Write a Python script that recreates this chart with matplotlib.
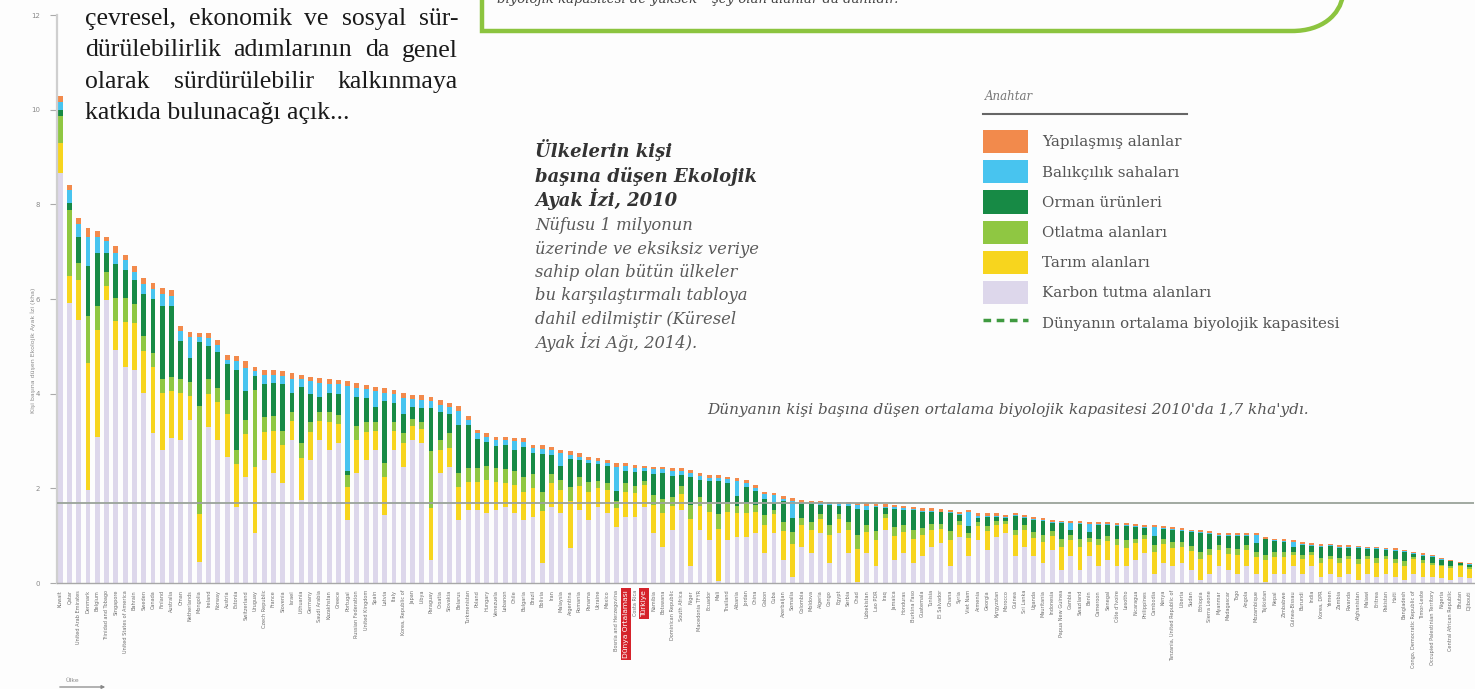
import matplotlib.pyplot as plt
from matplotlib.lines import Line2D
from matplotlib.patches import PathPatch
from matplotlib.path import Path
import numpy as np

W, H = 1475, 689

countries = [
    "Kuwait", "Qatar", "United Arab Emirates", "Denmark", "Belgium", "Trinidad and Tobago",
    "Singapore", "United States of America", "Bahrain", "Sweden", "Canada", "Finland",
    "Australia", "Oman", "Netherlands", "Mongolia", "Ireland", "Norway", "Austria", "Estonia",
    "Switzerland", "Uruguay", "Czech Republic", "France", "Slovenia", "Israel", "Lithuania",
    "Germany", "Saudi Arabia", "Kazakhstan", "Greece", "Portugal", "Russian Federation",
    "United Kingdom", "Spain", "Latvia", "Italy", "Korea, Republic of", "Japan", "Libya",
    "Paraguay", "Croatia", "Slovakia", "Belarus", "Turkmenistan", "Poland", "Hungary",
    "Venezuela", "Lebanon", "Chile", "Bulgaria", "Brazil", "Bolivia", "Iran", "Malaysia",
    "Argentina", "Romania", "Panama", "Ukraine", "Mexico", "Bosnia and Herzegovina",
    "Dünya Ortalaması", "Costa Rica", "Türkiye", "Namibia", "Botswana", "Dominican Republic",
    "South Africa", "Niger", "Macedonia TFYR", "Ecuador", "Mali", "Thailand", "Albania",
    "Jordan", "China", "Gabon", "Cuba", "Azerbaijan", "Somalia", "Colombia", "Moldova",
    "Algeria", "Congo", "Egypt", "Serbia", "Chad", "Uzbekistan", "Lao PDR", "Iraq", "Jamaica",
    "Honduras", "Burkina Faso", "Guatemala", "Tunisia", "El Salvador", "Ghana", "Syria",
    "Viet Nam", "Armenia", "Georgia", "Kyrgyzstan", "Morocco", "Guinea", "Sri Lanka",
    "Uganda", "Mauritania", "Indonesia", "Papua New Guinea", "Gambia", "Swaziland", "Benin",
    "Cameroon", "Senegal", "Côte d'Ivoire", "Lesotho", "Nicaragua", "Philippines", "Cambodia",
    "Kenya", "Tanzania, United Republic of", "Liberia", "Sudan", "Ethiopia", "Sierra Leone",
    "Myanmar", "Madagascar", "Togo", "Angola", "Mozambique", "Tajikistan", "Nepal", "Zimbabwe",
    "Guinea-Bissau", "Burundi", "India", "Korea, DPR", "Yemen", "Zambia", "Rwanda",
    "Afghanistan", "Malawi", "Eritrea", "Pakistan", "Haiti", "Bangladesh",
    "Congo, Democratic Republic of", "Timor-Leste", "Occupied Palestinian Territory",
    "Nigeria", "Central African Republic", "Bhutan", "Djibouti",
]

carbon = [
    8.66, 5.91, 5.56, 1.97, 3.09, 5.98, 4.93, 4.57, 4.50, 4.01,
    3.16, 2.81, 3.06, 3.02, 3.45, 0.45, 3.30, 3.02, 2.67, 1.61,
    2.25, 1.05, 2.60, 2.32, 2.11, 3.02, 1.75, 2.60, 3.02, 2.81,
    2.95, 1.33, 2.32, 2.60, 2.81, 1.44, 2.81, 2.46, 3.02, 2.95,
    0.49, 2.32, 2.46, 1.33, 1.54, 1.54, 1.47, 1.54, 1.61, 1.47,
    1.33, 1.40, 0.42, 1.61, 1.47, 0.73, 1.54, 1.33, 1.61, 1.47,
    1.19, 1.40, 1.40, 1.61, 1.05, 0.77, 1.12, 1.54, 0.35, 1.12,
    0.91, 0.05, 0.91, 0.98, 0.98, 1.05, 0.63, 1.05, 0.49, 0.13,
    0.77, 0.63, 1.05, 0.42, 1.05, 0.63, 0.02, 0.63, 0.35, 1.12,
    0.49, 0.63, 0.42, 0.56, 0.77, 0.84, 0.35, 0.98, 0.56, 0.90,
    0.70, 0.98, 1.05, 0.56, 0.77, 0.56, 0.42, 0.70, 0.27, 0.56,
    0.27, 0.56, 0.35, 0.49, 0.35, 0.35, 0.49, 0.63, 0.20, 0.42,
    0.35, 0.42, 0.27, 0.06, 0.20, 0.35, 0.27, 0.20, 0.35, 0.20,
    0.03, 0.20, 0.20, 0.35, 0.20, 0.35, 0.13, 0.20, 0.13, 0.20,
    0.06, 0.20, 0.13, 0.20, 0.13, 0.06, 0.20, 0.13, 0.13, 0.10,
    0.06, 0.13, 0.10,
]
cropland = [
    0.63, 0.57, 0.85, 2.67, 2.26, 0.30, 0.60, 0.95, 1.00, 0.90,
    1.40, 1.20, 1.00, 1.00, 0.50, 1.00, 0.70, 0.80, 0.90, 0.90,
    0.90, 1.41, 0.60, 0.90, 0.80, 0.40, 0.90, 0.60, 0.40, 0.60,
    0.40, 0.70, 0.70, 0.60, 0.40, 0.80, 0.40, 0.50, 0.30, 0.30,
    1.10, 0.50, 0.40, 0.70, 0.60, 0.60, 0.70, 0.60, 0.50, 0.60,
    0.60, 0.60, 1.10, 0.50, 0.50, 1.00, 0.50, 0.60, 0.40, 0.50,
    0.40, 0.52, 0.50, 0.45, 0.60, 0.70, 0.50, 0.35, 1.00, 0.50,
    0.60, 1.10, 0.60, 0.50, 0.50, 0.45, 0.60, 0.40, 0.60, 0.70,
    0.45, 0.50, 0.30, 0.60, 0.30, 0.50, 0.70, 0.45, 0.55, 0.25,
    0.50, 0.45, 0.50, 0.45, 0.35, 0.30, 0.55, 0.25, 0.40, 0.30,
    0.40, 0.25, 0.20, 0.45, 0.35, 0.40, 0.45, 0.30, 0.50, 0.35,
    0.50, 0.30, 0.45, 0.40, 0.45, 0.40, 0.35, 0.30, 0.45, 0.40,
    0.40, 0.35, 0.40, 0.45, 0.40, 0.35, 0.35, 0.40, 0.35, 0.35,
    0.45, 0.35, 0.35, 0.25, 0.30, 0.25, 0.30, 0.30, 0.30, 0.30,
    0.35, 0.30, 0.30, 0.30, 0.30, 0.30, 0.30, 0.30, 0.25, 0.25,
    0.25, 0.22, 0.20,
]
grazing = [
    0.58, 1.40, 0.35, 1.00, 0.50, 0.30, 0.50, 0.50, 0.40, 0.30,
    0.30, 0.30, 0.30, 0.30, 0.30, 2.30, 0.30, 0.30, 0.30, 0.30,
    0.30, 1.62, 0.30, 0.30, 0.30, 0.20, 0.30, 0.20, 0.20, 0.20,
    0.20, 0.25, 0.30, 0.20, 0.20, 0.30, 0.20, 0.20, 0.15, 0.15,
    1.20, 0.20, 0.30, 0.30, 0.30, 0.30, 0.30, 0.30, 0.30, 0.30,
    0.30, 0.30, 0.40, 0.20, 0.20, 0.30, 0.20, 0.20, 0.15, 0.15,
    0.15, 0.20, 0.15, 0.10, 0.20, 0.30, 0.20, 0.15, 0.30, 0.20,
    0.20, 0.30, 0.20, 0.15, 0.20, 0.15, 0.20, 0.10, 0.20, 0.25,
    0.15, 0.15, 0.10, 0.20, 0.10, 0.15, 0.30, 0.15, 0.20, 0.08,
    0.20, 0.15, 0.20, 0.15, 0.12, 0.10, 0.20, 0.08, 0.10, 0.08,
    0.10, 0.07, 0.05, 0.12, 0.10, 0.12, 0.15, 0.10, 0.15, 0.10,
    0.15, 0.10, 0.12, 0.10, 0.12, 0.15, 0.10, 0.08, 0.15, 0.10,
    0.12, 0.10, 0.12, 0.15, 0.12, 0.10, 0.12, 0.12, 0.10, 0.10,
    0.12, 0.10, 0.10, 0.06, 0.10, 0.06, 0.10, 0.08, 0.10, 0.08,
    0.10, 0.08, 0.10, 0.06, 0.08, 0.10, 0.04, 0.05, 0.05, 0.04,
    0.04, 0.03, 0.03,
]
forest = [
    0.13, 0.15, 0.55, 1.06, 1.12, 0.40, 0.70, 0.60, 0.50, 0.90,
    1.15, 1.55, 1.50, 0.80, 0.50, 1.35, 0.70, 0.75, 0.75, 1.70,
    0.60, 0.30, 0.70, 0.70, 1.00, 0.40, 1.20, 0.60, 0.30, 0.40,
    0.45, 0.08, 0.60, 0.50, 0.30, 1.30, 0.40, 0.40, 0.25, 0.30,
    0.90, 0.60, 0.40, 1.00, 0.90, 0.60, 0.50, 0.45, 0.50, 0.45,
    0.65, 0.45, 0.80, 0.40, 0.30, 0.60, 0.35, 0.40, 0.35, 0.35,
    0.20, 0.25, 0.30, 0.20, 0.45, 0.55, 0.45, 0.25, 0.60, 0.35,
    0.45, 0.70, 0.40, 0.20, 0.35, 0.30, 0.35, 0.15, 0.45, 0.30,
    0.30, 0.38, 0.20, 0.42, 0.18, 0.35, 0.55, 0.32, 0.50, 0.13,
    0.38, 0.32, 0.42, 0.35, 0.27, 0.25, 0.37, 0.12, 0.15, 0.10,
    0.20, 0.10, 0.08, 0.28, 0.16, 0.26, 0.29, 0.17, 0.34, 0.10,
    0.32, 0.12, 0.30, 0.23, 0.28, 0.30, 0.25, 0.16, 0.20, 0.23,
    0.26, 0.23, 0.28, 0.39, 0.31, 0.20, 0.25, 0.27, 0.19, 0.20,
    0.32, 0.23, 0.21, 0.10, 0.21, 0.12, 0.23, 0.20, 0.22, 0.17,
    0.23, 0.14, 0.19, 0.14, 0.17, 0.19, 0.07, 0.10, 0.11, 0.10,
    0.11, 0.04, 0.06,
]
fishing = [
    0.16, 0.28, 0.28, 0.62, 0.35, 0.25, 0.25, 0.20, 0.17, 0.20,
    0.20, 0.25, 0.20, 0.20, 0.45, 0.10, 0.18, 0.15, 0.10, 0.18,
    0.50, 0.10, 0.20, 0.18, 0.16, 0.30, 0.15, 0.26, 0.30, 0.20,
    0.20, 1.80, 0.20, 0.20, 0.35, 0.18, 0.18, 0.35, 0.17, 0.17,
    0.15, 0.15, 0.15, 0.30, 0.10, 0.12, 0.12, 0.13, 0.11, 0.17,
    0.10, 0.10, 0.12, 0.10, 0.27, 0.08, 0.08, 0.07, 0.06, 0.06,
    0.52, 0.10, 0.08, 0.06, 0.10, 0.08, 0.09, 0.07, 0.08, 0.09,
    0.06, 0.07, 0.08, 0.32, 0.09, 0.06, 0.10, 0.15, 0.04, 0.36,
    0.03, 0.03, 0.03, 0.03, 0.03, 0.03, 0.08, 0.08, 0.02, 0.03,
    0.03, 0.03, 0.02, 0.02, 0.02, 0.02, 0.02, 0.03, 0.28, 0.04,
    0.02, 0.02, 0.02, 0.02, 0.02, 0.02, 0.02, 0.02, 0.02, 0.15,
    0.02, 0.16, 0.02, 0.02, 0.02, 0.02, 0.02, 0.02, 0.19, 0.02,
    0.02, 0.02, 0.02, 0.02, 0.02, 0.02, 0.02, 0.02, 0.02, 0.16,
    0.02, 0.02, 0.02, 0.11, 0.02, 0.02, 0.02, 0.02, 0.02, 0.02,
    0.02, 0.02, 0.02, 0.02, 0.02, 0.02, 0.02, 0.02, 0.02, 0.01,
    0.01, 0.01, 0.01,
]
built = [
    0.12, 0.10, 0.12, 0.18, 0.11, 0.09, 0.13, 0.11, 0.12, 0.13,
    0.13, 0.12, 0.13, 0.10, 0.11, 0.08, 0.10, 0.12, 0.10, 0.10,
    0.13, 0.09, 0.10, 0.10, 0.10, 0.11, 0.10, 0.10, 0.11, 0.10,
    0.09, 0.10, 0.10, 0.09, 0.09, 0.10, 0.09, 0.10, 0.08, 0.10,
    0.10, 0.10, 0.09, 0.10, 0.08, 0.07, 0.07, 0.07, 0.07, 0.07,
    0.08, 0.07, 0.08, 0.07, 0.07, 0.07, 0.07, 0.07, 0.07, 0.07,
    0.07, 0.06, 0.06, 0.06, 0.06, 0.06, 0.06, 0.06, 0.06, 0.06,
    0.06, 0.06, 0.06, 0.06, 0.06, 0.06, 0.05, 0.05, 0.05, 0.05,
    0.05, 0.05, 0.05, 0.05, 0.05, 0.05, 0.05, 0.05, 0.05, 0.05,
    0.05, 0.05, 0.05, 0.05, 0.05, 0.05, 0.05, 0.05, 0.05, 0.05,
    0.05, 0.05, 0.04, 0.04, 0.04, 0.04, 0.04, 0.04, 0.04, 0.04,
    0.04, 0.04, 0.04, 0.04, 0.04, 0.04, 0.04, 0.04, 0.04, 0.04,
    0.04, 0.04, 0.04, 0.04, 0.04, 0.04, 0.04, 0.04, 0.04, 0.04,
    0.04, 0.04, 0.04, 0.04, 0.04, 0.04, 0.04, 0.02, 0.03, 0.03,
    0.03, 0.03, 0.03, 0.03, 0.03, 0.03, 0.03, 0.03, 0.03, 0.02,
    0.02, 0.02, 0.02,
]

world_biocapacity = 1.7
yticks = [0, 2, 4, 6, 8, 10, 12]
highlight = {"Dünya Ortalaması", "Türkiye"}

series = [
    ("Karbon tutma alanları", carbon, "#ddd7eb"),
    ("Tarım alanları", cropland, "#f7d51e"),
    ("Otlatma alanları", grazing, "#8fc742"),
    ("Orman ürünleri", forest, "#178a45"),
    ("Balıkçılık sahaları", fishing, "#48c4ef"),
    ("Yapılaşmış alanlar", built, "#f28a4c"),
]


def fx(px):
    return px / W


def fy(py):
    return 1 - py / H


fig = plt.figure(figsize=(W / 100, H / 100), dpi=100)
fig.patch.set_facecolor("#fdfdfd")

ax = fig.add_axes([fx(57), fy(583), (1474 - 57) / W, (583 - 15) / H])
ax.set_facecolor("none")

x = np.arange(len(countries))
bottom = np.zeros(len(countries))
containers = {}
for label, vals, color in series:
    containers[label] = ax.bar(x, vals, width=0.52, bottom=bottom, color=color, linewidth=0)
    bottom += np.array(vals)

ax.axhline(world_biocapacity, color="#9aa39a", lw=1.3, zorder=3)

ax.set_xlim(-0.35, len(countries) - 0.5)
ax.set_ylim(0, 12)
for side in ["top", "right"]:
    ax.spines[side].set_visible(False)
ax.spines["left"].set_color("#cfcfcf")
ax.spines["left"].set_linewidth(1.6)
ax.spines["bottom"].set_color("#a8a8a8")
ax.spines["bottom"].set_linewidth(1.0)

ax.set_yticks(yticks)
ax.tick_params(axis="y", length=5, width=0.8, color="#aaaaaa", labelsize=5,
               labelcolor="#8a8a8a", pad=7)
ax.set_xticks(x)
ax.set_xticklabels(countries, rotation=90, fontsize=3.6, color="#6e6e6e")
ax.tick_params(axis="x", length=0, pad=5)
for lab in ax.get_xticklabels():
    if lab.get_text() in highlight:
        lab.set_color("white")
        lab.set_fontsize(5.4)
        lab.set_bbox(dict(boxstyle="square,pad=0.25", fc="#d5232b", ec="none"))

fig.text(fx(33), fy(350), "Kişi başına düşen Ekolojik Ayak İzi (kha)", rotation=90,
         fontsize=4.5, color="#8a8a8a", ha="center", va="center")

# x-axis hint at the bottom left
fig.text(fx(66), fy(680), "Ülke", fontsize=4.5, color="#8a8a8a", va="center")
ax.annotate("", xy=(fx(108), fy(687)), xytext=(fx(57), fy(687)),
            xycoords="figure fraction", textcoords="figure fraction",
            arrowprops=dict(arrowstyle="-|>", color="#888888", lw=0.9, mutation_scale=5))

# legend
fig.text(fx(985), fy(100), "Anahtar", fontsize=8.5, style="italic", color="#777777",
         family="DejaVu Serif", va="baseline")
fig.add_artist(Line2D([fx(983), fx(1187)], [fy(114), fy(114)], color="#666666", lw=1.5,
                      transform=fig.transFigure))
avg_handle = Line2D([], [], color="#3f9a40", lw=2.5, ls=(0, (2.2, 1.6)))
order = ["Yapılaşmış alanlar", "Balıkçılık sahaları", "Orman ürünleri",
         "Otlatma alanları", "Tarım alanları", "Karbon tutma alanları"]
leg = fig.legend([containers[k] for k in order] + [avg_handle],
                 order + ["Dünyanın ortalama biyolojik kapasitesi"],
                 loc="upper left", bbox_to_anchor=(fx(983), fy(130)), frameon=False,
                 prop={"family": "DejaVu Serif", "size": 10.8}, labelcolor="#555555",
                 handlelength=3.0, handleheight=2.0, labelspacing=0.47, handletextpad=0.93,
                 borderpad=0, borderaxespad=0)

# title block
title_lines = ["Ülkelerin kişi", "başına düşen Ekolojik", "Ayak İzi, 2010"]
for i, line in enumerate(title_lines):
    fig.text(fx(535), fy(157 + i * 24.5), line, fontsize=13, weight="bold", style="italic",
             family="DejaVu Serif", color="#333333", va="baseline")
desc_lines = ["Nüfusu 1 milyonun", "üzerinde ve eksiksiz veriye", "sahip olan bütün ülkeler",
              "bu karşılaştırmalı tabloya", "dahil edilmiştir (Küresel", "Ayak İzi Ağı, 2014)."]
for i, line in enumerate(desc_lines):
    fig.text(fx(535), fy(230 + i * 23.5), line, fontsize=11.8, style="italic",
             family="DejaVu Serif", color="#5a5a5a", va="baseline")

fig.text(fx(707), fy(414), "Dünyanın kişi başına düşen ortalama biyolojik kapasitesi 2010'da 1,7 kha'ydı.",
         fontsize=11, style="italic", family="DejaVu Serif", color="#555555", va="baseline")

# green box at the top
verts = [(482, -5), (482, 31), (1292, 31), (1322, 31), (1340, 15), (1343, -5)]
codes = [Path.MOVETO, Path.LINETO, Path.LINETO, Path.CURVE4, Path.CURVE4, Path.CURVE4]
fig.add_artist(PathPatch(Path([(fx(a), fy(b)) for a, b in verts], codes), fc="none",
                         ec="#8cc43f", lw=3.2, transform=fig.transFigure))
fig.text(fx(497), fy(3), "biyolojik kapasitesi de yüksek", fontsize=9.5, style="italic",
         family="DejaVu Serif", color="#444444", va="baseline")
fig.text(fx(712), fy(3), "şey olan alanlar da dahildir.", fontsize=9.5, style="italic",
         family="DejaVu Serif", color="#444444", va="baseline")

# justified paragraph, top left
para = ["çevresel, ekonomik ve sosyal sür-", "dürülebilirlik adımlarının da genel",
        "olarak sürdürülebilir kalkınmaya", "katkıda bulunacağı açık..."]
renderer = fig.canvas.get_renderer()
left, right = 85, 458
for i, line in enumerate(para):
    base = 25 + i * 31.5
    words = line.split(" ")
    if i == len(para) - 1:
        fig.text(fx(left), fy(base), line, fontsize=18.5, family="Liberation Serif",
                 color="#1a1a1a", va="baseline")
        continue
    objs = [fig.text(0, fy(base), w, fontsize=18.5, family="Liberation Serif",
                     color="#1a1a1a", va="baseline") for w in words]
    widths = [o.get_window_extent(renderer).width for o in objs]
    gap = (right - left - sum(widths)) / (len(words) - 1)
    pos = left
    for o, wd in zip(objs, widths):
        o.set_x(fx(pos))
        pos += wd + gap

fig.savefig("out.png", dpi=100, facecolor=fig.get_facecolor())
